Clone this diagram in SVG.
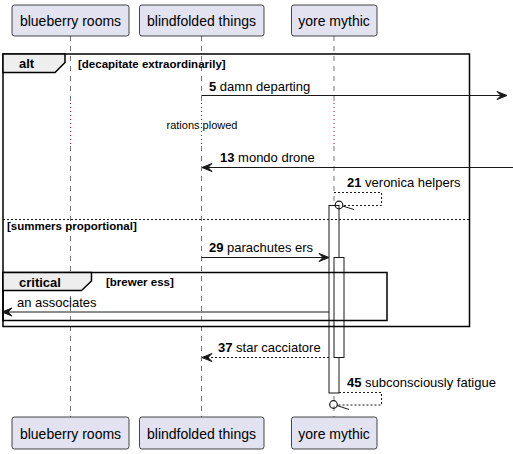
<svg xmlns="http://www.w3.org/2000/svg" width="513" height="454" viewBox="0 0 513 454">
<style>
.part{fill:#E2E2F0;stroke:#181818;stroke-width:0.8}
.pname{font-family:"Liberation Sans",Arial,sans-serif;font-size:14px;fill:#000;text-anchor:middle}
.life{stroke:#181818;stroke-opacity:0.6;stroke-width:1;stroke-dasharray:5,5}
.delay{stroke:#A80036;stroke-width:1;stroke-dasharray:1,3}
.msg{stroke:#181818;stroke-width:1;fill:none}
.dash{stroke:#181818;stroke-width:1;fill:none;stroke-dasharray:2,2}
.head{fill:#181818;stroke:#181818;stroke-width:1}
.lbl{font-family:"Liberation Sans",Arial,sans-serif;font-size:13px;fill:#000}
.num{font-weight:bold}
.frame{fill:none;stroke:#000;stroke-width:1.5}
.tab{fill:#EEEEEE;stroke:#000;stroke-width:1.5}
.ftitle{font-family:"Liberation Sans",Arial,sans-serif;font-size:13px;font-weight:bold;fill:#000}
.guard{font-family:"Liberation Sans",Arial,sans-serif;font-size:11.5px;font-weight:bold;fill:#000}
.small{font-family:"Liberation Sans",Arial,sans-serif;font-size:11px;fill:#000;text-anchor:middle}
.act{fill:#FFFFFF;stroke:#181818;stroke-width:1}
</style>
<g id="lifelines">
<line class="life" x1="70.5" y1="36" x2="70.5" y2="103"/>
<line class="delay" x1="70.5" y1="103" x2="70.5" y2="146"/>
<line class="life" x1="70.5" y1="146" x2="70.5" y2="417"/>
<line class="life" x1="201.5" y1="36" x2="201.5" y2="103"/>
<line class="delay" x1="201.5" y1="103" x2="201.5" y2="146"/>
<line class="life" x1="201.5" y1="146" x2="201.5" y2="417"/>
<line class="life" x1="334" y1="36" x2="334" y2="103"/>
<line class="delay" x1="334" y1="103" x2="334" y2="146"/>
<line class="life" x1="334" y1="146" x2="334" y2="417"/>
</g>
<g id="p-blueberry">
<rect class="part" x="12" y="5" width="117" height="31" rx="2.5"/>
<text class="pname" x="70.5" y="26">blueberry rooms</text>
<rect class="part" x="12" y="417" width="117" height="32" rx="2.5"/>
<text class="pname" x="70.5" y="438.5">blueberry rooms</text>
</g>
<g id="p-blindfolded">
<rect class="part" x="139.5" y="5" width="124.5" height="31" rx="2.5"/>
<text class="pname" x="201.5" y="26">blindfolded things</text>
<rect class="part" x="139.5" y="417" width="124.5" height="32" rx="2.5"/>
<text class="pname" x="201.5" y="438.5">blindfolded things</text>
</g>
<g id="p-yore">
<rect class="part" x="291.5" y="5" width="85.5" height="31" rx="2.5"/>
<text class="pname" x="334" y="26">yore mythic</text>
<rect class="part" x="291.5" y="417" width="85.5" height="32" rx="2.5"/>
<text class="pname" x="334" y="438.5">yore mythic</text>
</g>
<g id="activations">
<rect class="act" x="329" y="205.5" width="10" height="187.5"/>
<rect class="act" x="334" y="257.5" width="10" height="100"/>
</g>
<g id="frame-alt">
<rect class="frame" x="3" y="54" width="466.5" height="272.5"/>
<path class="tab" d="M3,54 L65,54 L65,62.5 L55,72.5 L3,72.5 Z"/>
<text class="ftitle" x="19" y="68">alt</text>
<text class="guard" x="78" y="67.5">[decapitate extraordinarily]</text>
<line class="dash" x1="3" y1="219.5" x2="469.5" y2="219.5"/>
<text class="guard" x="7" y="229.5">[summers proportional]</text>
</g>
<g id="frame-critical">
<rect class="frame" x="3" y="272.5" width="384" height="48"/>
<path class="tab" d="M3,272.5 L91.5,272.5 L91.5,281 L81.5,290.5 L3,290.5 Z"/>
<text class="ftitle" x="19" y="286.5">critical</text>
<text class="guard" x="106" y="285.5">[brewer ess]</text>
</g>
<g id="delay">
<text class="small" x="202" y="129">rations plowed</text>
</g>
<g id="connectors">
<line class="msg" x1="201.5" y1="95.5" x2="505" y2="95.5"/>
<polygon class="head" points="507,95.5 497,91.5 501,95.5 497,99.5"/>
<text class="lbl" x="209" y="90.5"><tspan class="num">5</tspan> damn departing</text>

<line class="msg" x1="203" y1="167.5" x2="513" y2="167.5"/>
<polygon class="head" points="202,167.5 212,163.5 208,167.5 212,171.5"/>
<text class="lbl" x="220" y="162"><tspan class="num">13</tspan> mondo drone</text>

<polyline class="dash" points="334,192.5 381.5,192.5 381.5,205.5 343,205.5"/>
<circle cx="339" cy="205" r="3.8" fill="none" stroke="#181818" stroke-width="1.2"/>
<line class="msg" x1="342.5" y1="206" x2="354" y2="209.5"/>
<text class="lbl" x="347" y="187"><tspan class="num">21</tspan> veronica helpers</text>

<line class="msg" x1="201.5" y1="257.5" x2="327" y2="257.5"/>
<polygon class="head" points="329,257.5 319,253.5 323,257.5 319,261.5"/>
<text class="lbl" x="209" y="252"><tspan class="num">29</tspan> parachutes ers</text>

<line class="msg" x1="4" y1="312" x2="329" y2="312"/>
<polygon class="head" points="2,312 12,308 8,312 12,316"/>
<text class="lbl" x="17" y="306.5">an associates</text>

<line class="dash" x1="203" y1="357.5" x2="329" y2="357.5"/>
<polygon class="head" points="202,357.5 212,353.5 208,357.5 212,361.5"/>
<text class="lbl" x="218" y="352"><tspan class="num">37</tspan> star cacciatore</text>

<polyline class="dash" points="339,392.5 381.5,392.5 381.5,405 338,405"/>
<circle cx="333.5" cy="404.5" r="3.8" fill="none" stroke="#181818" stroke-width="1.2"/>
<line class="msg" x1="337" y1="405.5" x2="349" y2="409.5"/>
<text class="lbl" x="347" y="387"><tspan class="num">45</tspan> subconsciously fatigue</text>
</g>
</svg>
